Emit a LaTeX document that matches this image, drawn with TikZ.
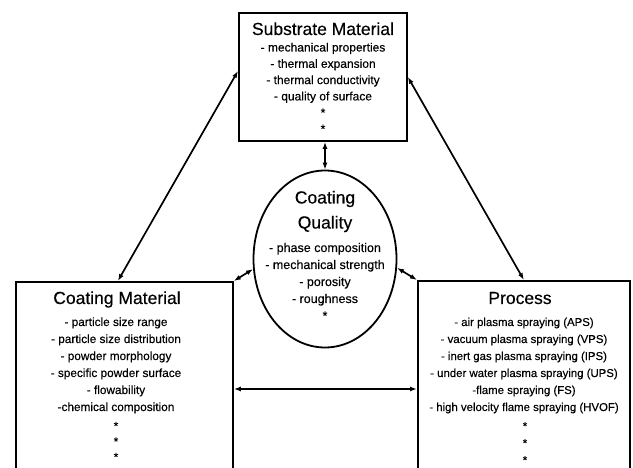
\documentclass[tikz,border=0pt]{standalone}
\usepackage{fontspec}
\setmainfont[FakeBold=0.3]{Liberation Sans}
\usetikzlibrary{shapes.geometric,arrows.meta}
\begin{document}
\begin{tikzpicture}[x=1pt,y=-1pt,
  boxst/.style={draw,line width=1.8pt,inner sep=0pt,anchor=north west},
  link/.style={line width=1.7pt,{Latex[length=7pt,width=5pt]}-{Latex[length=7pt,width=5pt]}},
  ttl/.style={anchor=base,inner sep=0pt,font=\fontsize{17.5}{20}\selectfont},
  itm/.style={anchor=base,inner sep=0pt}]
\useasboundingbox (0,0) rectangle (633,468);
% boxes
\node[boxst,minimum width=168pt,minimum height=128pt] (sub) at (238,12) {};
\node[boxst,minimum width=217pt,minimum height=220pt] (cm) at (15,281) {};
\node[boxst,minimum width=212pt,minimum height=220pt] (pr) at (417,280) {};
\node[ellipse,draw,line width=1.8pt,minimum width=143pt,minimum height=177pt,inner sep=0pt] (ell) at (325,259) {};
% substrate text
\node[ttl] (subt) at (323,35) {Substrate Material};
\foreach \t [count=\i] in {{- mechanical properties},{- thermal expansion},{- thermal conductivity},{- quality of surface},{*},{*}}
  \node[itm,font=\fontsize{12}{14}\selectfont] (s\i) at (323,{51.5+16.3*(\i-1)}) {\t};
% ellipse text
\node[ttl] (ct) at (325,203.5) {Coating};
\node[ttl] (qt) at (325,228.5) {Quality};
\foreach \t [count=\i] in {{- phase composition},{- mechanical strength},{- porosity},{- roughness},{*}}
  \node[itm,font=\fontsize{12.5}{14}\selectfont] (e\i) at (325,{252+17*(\i-1)}) {\t};
% coating material text
\node[ttl] (cmt) at (117,304) {Coating Material};
\foreach \t [count=\i] in {{- particle size range},{- particle size distribution},{- powder morphology},{- specific powder surface},{- flowability},{-chemical composition}}
  \node[itm,font=\fontsize{11.8}{14}\selectfont] (c\i) at (116,{326+17*(\i-1)}) {\t};
\foreach \y [count=\i] in {430,445.5,461}
  \node[itm,font=\fontsize{11.8}{14}\selectfont] (cd\i) at (116,\y) {*};
% process text
\node[ttl] (prt) at (520,304) {Process};
\foreach \t [count=\i] in {{- air plasma spraying (APS)},{- vacuum plasma spraying (VPS)},{- inert gas plasma spraying (IPS)},{- under water plasma spraying (UPS)},{-flame spraying (FS)},{- high velocity flame spraying (HVOF)}}
  \node[itm,font=\fontsize{11.4}{14}\selectfont] (p\i) at (524,{326+17*(\i-1)}) {\t};
\foreach \y [count=\i] in {430,447,464}
  \node[itm,font=\fontsize{11.4}{14}\selectfont] (pd\i) at (525,\y) {*};
% connectors
\coordinate (hz) at (0,389);
\draw[link] ([yshift=6pt]sub.west) -- ([xshift=-6.5pt]cm.north);
\draw[link] (sub.east) -- (pr.north);
\draw[link] (ell.north |- sub.south) -- (ell.north);
\draw[link] (ell.188) -- (cm.north east);
\draw[link] (ell.-7) -- (pr.north west);
\draw[link] (cm.east |- hz) -- (pr.west |- hz);
\end{tikzpicture}
\end{document}
